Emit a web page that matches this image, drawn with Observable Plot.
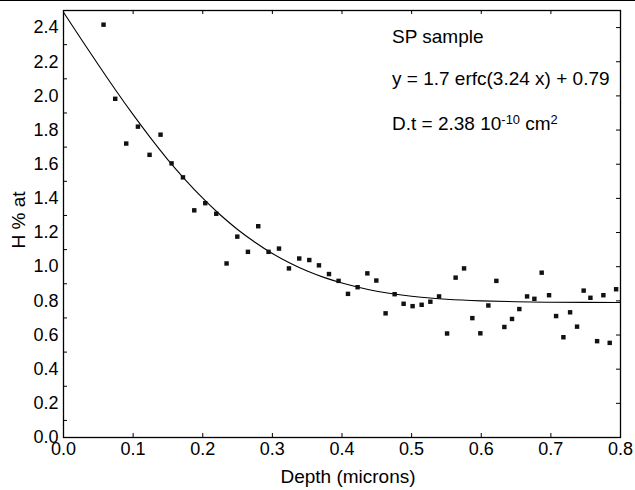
<!DOCTYPE html>
<html><head><meta charset="utf-8">
<script src="https://cdn.jsdelivr.net/npm/d3@7"></script>
<script src="https://cdn.jsdelivr.net/npm/@observablehq/plot@0.6"></script>
<style>
body{margin:0;background:#fff;}
#wrap{position:relative;width:635px;height:490px;border-top:1px solid #000;box-sizing:border-box;font-family:"Liberation Sans",Arial,sans-serif;color:#000;background:#fff;}
.ann{position:absolute;font-size:19px;line-height:1;white-space:nowrap;}
sup{font-size:0.68em;vertical-align:0.5em;line-height:0;}
</style></head><body><div id="wrap"></div>
<script>
// Measured points (depth in microns, H % at)
const depth = [0.0575, 0.0743, 0.0901, 0.1069, 0.1236, 0.1394, 0.1552, 0.1716, 0.1878, 0.2036, 0.2194, 0.2342, 0.2496, 0.2649, 0.2797, 0.2945, 0.3095, 0.3238, 0.3386, 0.3530, 0.3669, 0.3813, 0.3951, 0.4086, 0.4224, 0.4364, 0.4493, 0.4626, 0.4756, 0.4885, 0.5014, 0.5144, 0.5269, 0.5394, 0.5509, 0.5632, 0.5753, 0.5872, 0.5987, 0.6102, 0.6217, 0.6332, 0.6442, 0.6547, 0.6658, 0.6763, 0.6868, 0.6974, 0.7075, 0.7180, 0.7276, 0.7376, 0.7471, 0.7568, 0.7664, 0.7754, 0.7845, 0.7937];
const hConc = [2.417, 1.983, 1.721, 1.820, 1.655, 1.773, 1.605, 1.523, 1.330, 1.372, 1.310, 1.019, 1.176, 1.087, 1.237, 1.087, 1.106, 0.990, 1.048, 1.039, 1.008, 0.957, 0.917, 0.841, 0.880, 0.961, 0.919, 0.727, 0.839, 0.783, 0.769, 0.777, 0.795, 0.826, 0.609, 0.936, 0.990, 0.699, 0.610, 0.773, 0.917, 0.647, 0.694, 0.752, 0.826, 0.812, 0.965, 0.833, 0.711, 0.587, 0.733, 0.649, 0.860, 0.818, 0.564, 0.833, 0.554, 0.868];
// Fitted curve
const fitX = [0, 0.025, 0.05, 0.075, 0.1, 0.125, 0.15, 0.175, 0.2, 0.225, 0.25, 0.275, 0.3, 0.325, 0.35, 0.375, 0.4, 0.45, 0.5, 0.55, 0.6, 0.65, 0.7, 0.75, 0.8];
const fitY = [2.49, 2.335, 2.182, 2.033, 1.890, 1.754, 1.626, 1.509, 1.401, 1.304, 1.218, 1.143, 1.077, 1.022, 0.975, 0.936, 0.905, 0.856, 0.827, 0.809, 0.800, 0.795, 0.792, 0.791, 0.790];
// Ticks
const xTicks = [0, 0.1, 0.2, 0.3, 0.4, 0.5, 0.6, 0.7, 0.8];
const yTicks = [0, 0.2, 0.4, 0.6, 0.8, 1.0, 1.2, 1.4, 1.6, 1.8, 2.0, 2.2, 2.4];
const yMinorTicks = [0.1, 0.3, 0.5, 0.7, 0.9, 1.1, 1.3, 1.5, 1.7, 1.9, 2.1, 2.3];
const xLabel = "Depth (microns)";
const yLabel = "H % at";

const points = depth.map((d, i) => ({x: d, y: hConc[i]}));
const fit = fitX.map((d, i) => ({x: d, y: fitY[i]}));

const W = 635, H = 489, mL = 63, mR = 15, mT = 9, mB = 53;
const pw = W - mL - mR, ph = H - mT - mB, tk = 4;

const chart = Plot.plot({
  width: W, height: H,
  marginLeft: mL, marginRight: mR, marginTop: mT, marginBottom: mB,
  style: {fontFamily: "'Liberation Sans', Arial, sans-serif", fontSize: "18px", color: "#000", background: "#fff"},
  x: {domain: [0, 0.8]},
  y: {domain: [0, 2.5]},
  marks: [
    Plot.line(fit, {x: "x", y: "y", curve: "natural", stroke: "#000", strokeWidth: 1.1}),
    Plot.dot(points, {x: "x", y: "y", symbol: "square", r: 2.5, fill: "#111", stroke: "none"}),
    Plot.tickX(xTicks, {x: d => d, insetTop: ph - tk, stroke: "#000"}),
    Plot.tickX(xTicks, {x: d => d, insetBottom: ph - tk, stroke: "#000"}),
    Plot.tickY(yMinorTicks, {y: d => d, insetRight: pw - tk, stroke: "#000"}),
    Plot.tickY(yTicks, {y: d => d, insetLeft: pw - tk, stroke: "#000"}),
    Plot.axisX({ticks: xTicks, tickSize: 0, tickPadding: 5, tickFormat: d3.format(".1f"), label: null, fontSize: 18}),
    Plot.axisY({ticks: yTicks, tickSize: 0, tickPadding: 5, tickFormat: d3.format(".1f"), label: null, fontSize: 18}),
    Plot.frame({stroke: "#000", strokeWidth: 1.3})
  ]
});
const wrap = document.getElementById("wrap");
wrap.appendChild(chart);

function addText(html, style) {
  const d = document.createElement("div");
  d.className = "ann";
  d.innerHTML = html;
  Object.assign(d.style, style);
  wrap.appendChild(d);
}
addText("SP sample", {left: "392px", top: "25.6px"});
addText("y = 1.7 erfc(3.24 x) + 0.79", {left: "392px", top: "67.9px"});
addText("D.t = 2.38 10<sup>-10</sup> cm<sup>2</sup>", {left: "392px", top: "112.9px"});
addText(xLabel, {left: "348px", top: "466px", transform: "translateX(-50%)"});
addText(yLabel, {left: "18px", top: "219px", transform: "translate(-50%,-50%) rotate(-90deg)"});
</script></body></html>
